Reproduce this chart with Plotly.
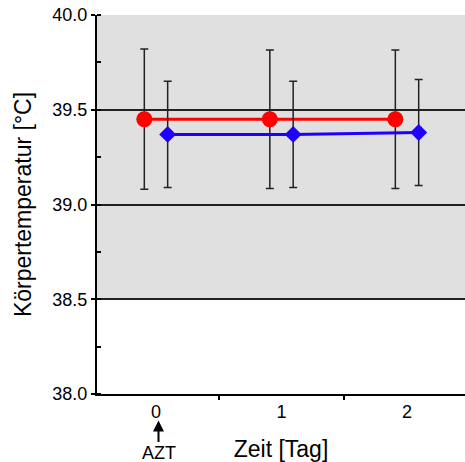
import plotly.graph_objects as go

# Body temperature over days, two groups (mean ± SD)
days = [0, 1, 2]
day_labels = ["0", "1", "2"]
red_mean = [39.45, 39.45, 39.45]
red_sd = [0.37, 0.365, 0.365]
blue_mean = [39.37, 39.37, 39.38]
blue_sd = [0.28, 0.28, 0.28]

# horizontal dodge so the two groups don't overlap
OFFSET = 0.093
FONT = "Liberation Sans, Arial, sans-serif"

fig = go.Figure()

fig.add_trace(go.Scatter(
    x=[d - OFFSET for d in days], y=red_mean,
    mode="lines+markers",
    line=dict(color="#ff0000", width=3),
    marker=dict(symbol="circle", size=16, color="#ff0000"),
    error_y=dict(type="data", array=red_sd, color="#222222", thickness=1.5, width=4),
    showlegend=False,
))

fig.add_trace(go.Scatter(
    x=[d + OFFSET for d in days], y=blue_mean,
    mode="lines+markers",
    line=dict(color="#1f00ff", width=3),
    marker=dict(symbol="diamond", size=13, color="#1f00ff"),
    error_y=dict(type="data", array=blue_sd, color="#222222", thickness=1.5, width=4),
    showlegend=False,
))

# shaded band above 38.5 °C
fig.add_shape(type="rect", xref="paper", yref="y", x0=0, x1=1, y0=38.5, y1=40.0,
              fillcolor="#e0e0e0", line=dict(width=0), layer="below")

# AZT marker under day 0
fig.add_annotation(x=0.02, y=-0.07, xref="x", yref="paper",
                   text="AZT", showarrow=True, ax=0, ay=32,
                   arrowhead=2, arrowsize=1.1, arrowwidth=2, arrowcolor="#000000",
                   borderpad=0,
                   font=dict(family=FONT, size=18, color="#000000"))

fig.update_layout(
    width=465, height=462,
    margin=dict(l=97, r=0, t=15, b=68),
    paper_bgcolor="white", plot_bgcolor="white",
    font=dict(family=FONT, color="#000000"),
    xaxis=dict(
        range=[-0.47, 2.462],
        tickvals=days, ticktext=day_labels, ticks="",
        tickfont=dict(size=18),
        showgrid=False, zeroline=False,
        showline=True, linecolor="#000000", linewidth=2,
        minor=dict(tickvals=[0.5, 1.5], ticks="outside", ticklen=4,
                   tickcolor="#000000", tickwidth=1.5, showgrid=False),
        title=dict(text="Zeit [Tag]", font=dict(size=23), standoff=22),
        automargin=False,
    ),
    yaxis=dict(
        range=[38.0, 40.0],
        dtick=0.5, tickformat=".1f",
        ticks="outside", ticklen=4, tickcolor="#000000", tickwidth=1.5,
        tickfont=dict(size=18),
        showgrid=True, gridcolor="#222222", gridwidth=1.5,
        zeroline=False,
        showline=True, linecolor="#000000", linewidth=2,
        minor=dict(dtick=0.25, ticks="inside", ticklen=4,
                   tickcolor="#000000", tickwidth=1.5, showgrid=False),
        title=dict(text="Körpertemperatur [°C]", font=dict(size=23), standoff=14),
        automargin=False,
    ),
)

fig.write_html("out.html")
